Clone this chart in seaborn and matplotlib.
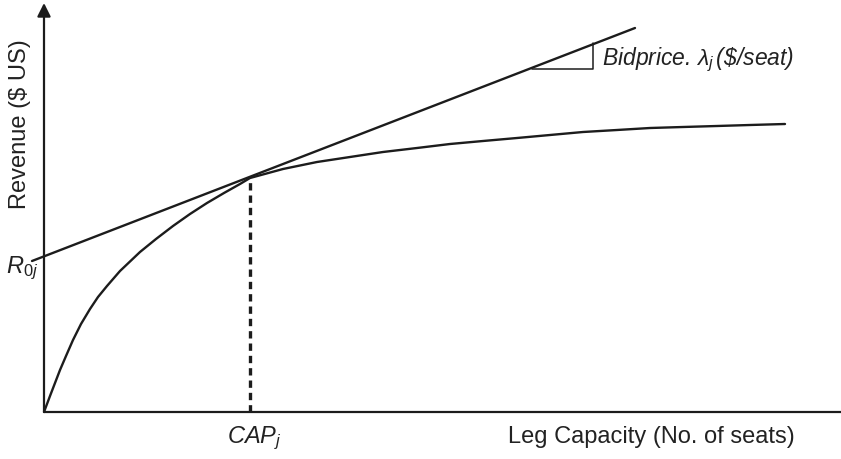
import numpy as np
import pandas as pd
import matplotlib
matplotlib.use('Agg')
import matplotlib.pyplot as plt
import seaborn as sns

sns.set_style('white')
plt.rcParams['font.family'] = ['Liberation Sans', 'DejaVu Sans']
plt.rcParams['mathtext.fontset'] = 'custom'
plt.rcParams['mathtext.rm'] = 'Liberation Sans'
plt.rcParams['mathtext.it'] = 'Liberation Sans:italic'
plt.rcParams['mathtext.bf'] = 'Liberation Sans:bold'

#revenue curve (capacity, revenue)
capacity = [0, 6, 11, 16, 22, 29, 37, 46, 54, 63, 76, 96, 112, 129, 146, 163, 180, 196, 206,
            239, 273, 306, 339, 373, 406, 439, 473, 506, 539, 573, 606, 639, 673, 706, 741]
revenue = [0, 16, 29, 42, 56, 72, 88, 103, 115, 126, 141, 160, 173, 186, 198, 209, 219, 228, 234,
           243, 250, 255, 260, 264, 268, 271, 274, 277, 280, 282, 284, 285, 286, 287, 288]

#tangent (bid price) line end points
tangent_x = [-12, 591]
tangent_y = [151, 384]

#slope triangle
tri_x = [488, 549, 549]
tri_y = [343, 343, 369]

#capacity point
cap_x = [206, 206]
cap_y = [0, 234]

ink = '#1c1c1c'

fig = plt.figure(figsize=(8.41, 4.59), dpi=100)
ax = fig.add_axes([0, 0, 1, 1])

curve_df = pd.DataFrame({'capacity': capacity, 'revenue': revenue})
sns.lineplot(x='capacity', y='revenue', data=curve_df, color=ink, linewidth=1.7, ax=ax)
sns.lineplot(x=tangent_x, y=tangent_y, color=ink, linewidth=1.7, ax=ax)
sns.lineplot(x=tri_x, y=tri_y, sort=False, estimator=None, color=ink, linewidth=1.1, ax=ax)
sns.lineplot(x=cap_x, y=cap_y, sort=False, estimator=None, color=ink, linewidth=2.4,
             linestyle=(0, (2.2, 1.5)), ax=ax)

#axes with arrows
ax.plot([0, 797], [0, 0], color=ink, linewidth=1.6, solid_capstyle='butt')
ax.annotate('', xy=(0, 409), xytext=(0, 0),
            arrowprops=dict(arrowstyle='-|>', color=ink, lw=1.6, mutation_scale=20, shrinkA=0, shrinkB=0))

ax.set_xlim(-44, 797)
ax.set_ylim(-47, 412)
ax.axis('off')

txt = '#222222'
fs = 17
ax.text(-24, 288, 'Revenue ($ US)', rotation=90, ha='center', va='center', fontsize=fs, color=txt)
ax.text(-38, 139, r'$R_{0j}$', ha='left', va='baseline', fontsize=fs, color=txt)
ax.text(183, -31, r'$CAP_j$', ha='left', va='baseline', fontsize=17, color=txt)
ax.text(464, -31, 'Leg Capacity (No. of seats)', ha='left', va='baseline', fontsize=fs, color=txt)
ax.text(558, 347, r'Bidprice. $\lambda_j\,$(\$/seat)', ha='left', va='baseline', fontsize=16.5,
        style='italic', color=txt)

fig.savefig('out.png', dpi=100)
